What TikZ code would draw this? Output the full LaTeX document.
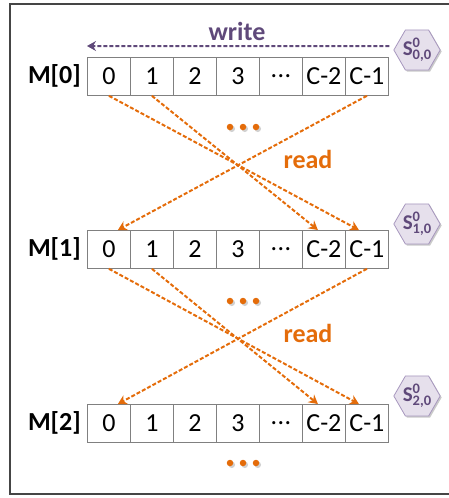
\documentclass[tikz,border=0pt]{standalone}
\usepackage{fontspec}
\setmainfont{Carlito}
\usetikzlibrary{arrows.meta,calc,shapes.geometric,shadows}
\definecolor{pur}{HTML}{5F497A}
\definecolor{org}{HTML}{E46C0A}
\definecolor{hexfill}{HTML}{E6E0EC}
\definecolor{hexline}{HTML}{A797BE}
\definecolor{cellline}{HTML}{808080}
\definecolor{frm}{HTML}{454545}
\newcommand{\hexlabel}[1]{\fontsize{21}{21}\selectfont S\makebox[0pt][l]{\raisebox{8pt}{\fontsize{14.5}{14.5}\selectfont 0}}\raisebox{-4pt}{\fontsize{14.5}{14.5}\selectfont #1}}
\newcommand{\celldots}{.\kern0.5pt.\kern0.5pt.}
\begin{document}
\begin{tikzpicture}[x=1pt,y=-1pt,
  cell/.style={draw=cellline,line width=0.8pt,minimum width=43pt,minimum height=38pt,inner sep=0pt,anchor=north west,font=\fontsize{26}{26}\selectfont},
  mlab/.style={font=\fontsize{26}{26}\selectfont\bfseries,inner sep=0pt},
  hexnode/.style={regular polygon,regular polygon sides=6,minimum size=46pt,inner sep=0pt,fill=hexfill,draw=hexline,line width=0.8pt,text=pur,font=\bfseries,drop shadow={shadow xshift=1.5pt,shadow yshift=-1.5pt,fill=black!35,opacity=0.6}},
  wr/.style={draw=pur,line width=2pt,dash pattern=on 4pt off 2pt,-{Stealth[length=9pt,width=10pt,inset=3pt,fill=pur]}},
  rd/.style={draw=org,line width=2pt,dash pattern=on 4pt off 2pt,-{Stealth[length=9pt,width=10pt,inset=3pt,fill=org]}},
  lbl/.style={font=\fontsize{26}{26}\selectfont\bfseries,inner sep=0pt},
  dotn/.style={circle,fill=org,minimum size=6.5pt,inner sep=0pt},
  dotsh/.style={circle,fill=black!18,minimum size=6.5pt,inner sep=0pt}
]
\useasboundingbox (0,0) rectangle (449,498);
\draw[frm,line width=1.5pt] (449,4) -- (10,4) -- (10,494) -- (449,494);

% cells
\foreach \r/\y in {0/57,1/230,2/404}{
  \foreach \i/\t in {0/0,1/1,2/2,3/3,4/\celldots,5/C-2,6/C-1}{
    \node[cell] (r\r-\i) at ({87+43*\i},\y) {\t};
  }
  \node[mlab,anchor=east] (m\r) at ($(r\r-0.west)+(-6,0)$) {M[\r]};
}

% hexagons
\node[hexnode] (h0) at (417,50) {\hexlabel{0,0}};
\node[hexnode] (h1) at (417,224) {\hexlabel{1,0}};
\node[hexnode] (h2) at (417,396) {\hexlabel{2,0}};

% write
\coordinate (wend) at ($(r0-0.north west)+(0,-11)$);
\draw[wr] ($(h0.west)+(-4,-4)$) -- (wend);
\node[lbl,text=pur] (wlab) at (237,31) {write};

% read arrows
\foreach \a/\b in {0/1,1/2}{
  \draw[rd] (r\a-0.south) -- ($(r\b-6.north)+(-8,0)$);
  \draw[rd] (r\a-1.south) -- ($(r\b-5.north)+(-6,0)$);
  \draw[rd] (r\a-6.south) -- ($(r\b-0.north)+(9,0)$);
}
\node[lbl,text=org] (rl0) at (308,159) {read};
\node[lbl,text=org] (rl1) at (308,333) {read};

% dots
\foreach \k/\y in {0/127,1/301,2/463}{
  \foreach \j/\x in {a/230,b/243,c/256}{
    \node[dotsh] (ds\k\j) at (\x+1.8,\y+1.8) {};
    \node[dotn] (d\k\j) at (\x,\y) {};
  }
}
\end{tikzpicture}
\end{document}
